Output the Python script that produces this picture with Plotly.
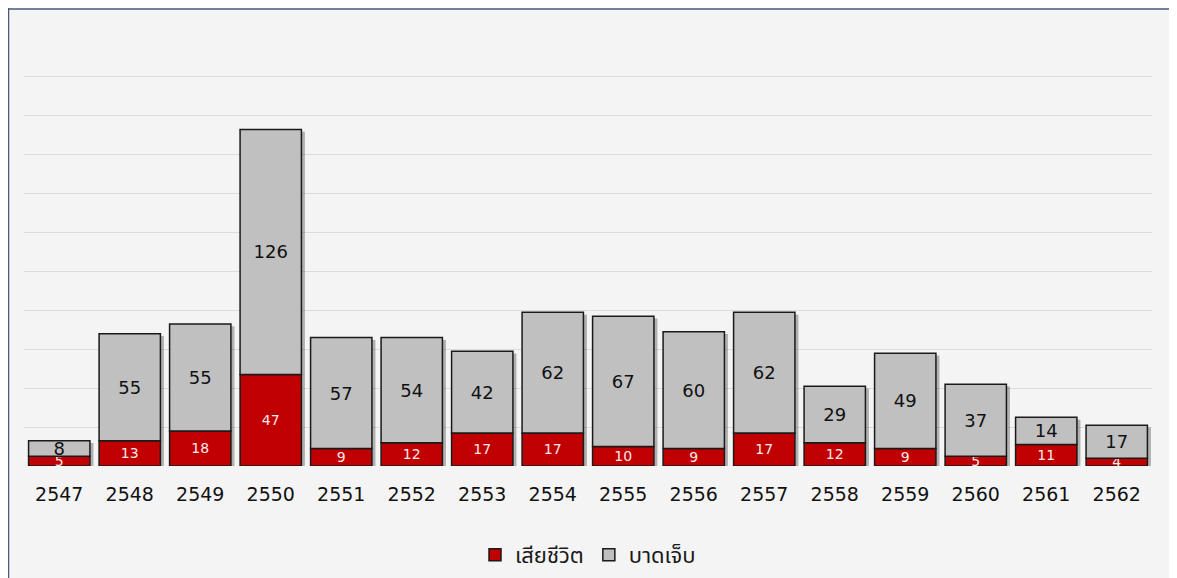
import plotly.graph_objects as go

years = ["2547", "2548", "2549", "2550", "2551", "2552", "2553", "2554",
         "2555", "2556", "2557", "2558", "2559", "2560", "2561", "2562"]
deaths = [5, 13, 18, 47, 9, 12, 17, 17, 10, 9, 17, 12, 9, 5, 11, 4]
injured = [8, 55, 55, 126, 57, 54, 42, 62, 67, 60, 62, 29, 49, 37, 14, 17]
series_names = ["เสียชีวิต", "บาดเจ็บ"]

totals = [d + i for d, i in zip(deaths, injured)]
W = 0.87
FONT = "DejaVu Sans, Noto Sans Thai, Noto Sans, sans-serif"

FIG_W, FIG_H = 1169, 570
ML, MR, MT, MB = 16, 25, 65, 112
PW = FIG_W - ML - MR
PH = FIG_H - MT - MB

fig = go.Figure()

# shadow
fig.add_trace(go.Bar(
    x=years, y=totals, base=[-1.2] * len(years), width=W, offset=-W / 2 + 0.05,
    marker=dict(color="rgba(0,0,0,0.28)", line=dict(width=0)),
    showlegend=False, hoverinfo="skip",
))

fig.add_trace(go.Bar(
    x=years, y=deaths, base=[0] * len(years), name=series_names[0], width=W, offset=-W / 2,
    marker=dict(color="#c00000", line=dict(color="#1a1a1a", width=1.5)),
    text=[str(v) for v in deaths], textposition="inside", insidetextanchor="middle",
    constraintext="none", textangle=0,
    textfont=dict(color="#fbeaea", size=14, family=FONT),
))
fig.add_trace(go.Bar(
    x=years, y=injured, base=deaths, name=series_names[1], width=W, offset=-W / 2,
    marker=dict(color="#c0c0c0", line=dict(color="#1a1a1a", width=1.5)),
    text=[str(v) for v in injured], textposition="inside", insidetextanchor="middle",
    constraintext="none", textangle=0,
    textfont=dict(color="#111111", size=18, family=FONT),
))

fig.update_layout(
    width=FIG_W, height=FIG_H,
    barmode="overlay",
    paper_bgcolor="#f4f4f4", plot_bgcolor="rgba(0,0,0,0)",
    margin=dict(l=ML, r=MR, t=MT, b=MB, autoexpand=False),
    font=dict(family=FONT, color="#111111"),
    xaxis=dict(showgrid=False, showline=False, ticks="outside", ticklen=11,
               tickcolor="rgba(0,0,0,0)", tickfont=dict(size=19), automargin=False),
    yaxis=dict(range=[0, 202], dtick=20, showticklabels=False, gridcolor="#dcdcdc",
               gridwidth=1, zeroline=False, automargin=False),
    legend=dict(orientation="h", x=0.5, xanchor="center", y=-89 / PH, yanchor="middle",
                font=dict(size=22, color="#1a1a1a"), traceorder="normal", itemwidth=30),
    showlegend=True,
    shapes=[
        dict(type="line", xref="paper", yref="paper", x0=-15 / PW, x1=1 + MR / PW,
             y0=1 + (MT - 1) / PH, y1=1 + (MT - 1) / PH,
             line=dict(color="#4a587a", width=1.5)),
        dict(type="line", xref="paper", yref="paper", x0=-15.5 / PW, x1=-15.5 / PW,
             y0=1 + MT / PH, y1=-MB / PH,
             line=dict(color="#4a587a", width=1.5)),
    ],
)

fig.write_html("out.html")
